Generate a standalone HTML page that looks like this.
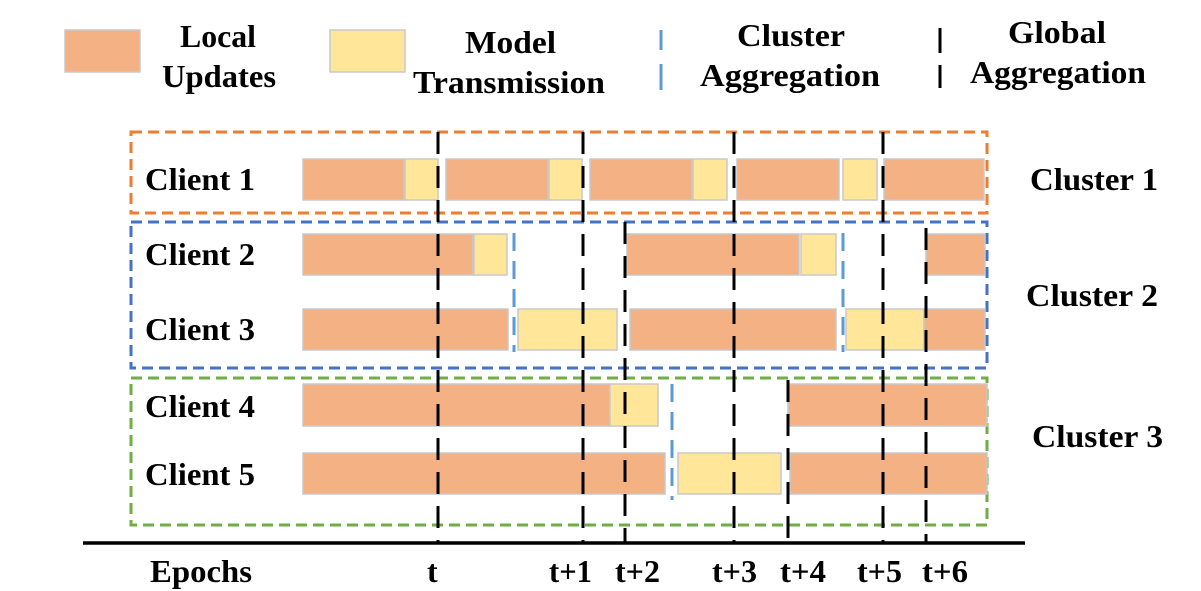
<!DOCTYPE html>
<html><head><meta charset="utf-8"><style>
html,body{margin:0;padding:0;background:#fff;}
svg{display:block;}
text{font-family:"Liberation Serif",serif;font-weight:bold;font-size:32px;fill:#000;}
</style></head><body>
<svg width="1201" height="591" viewBox="0 0 1201 591" xmlns="http://www.w3.org/2000/svg">
<g stroke="#c8c8c8" stroke-width="1.5">
<rect x="65" y="30" width="75" height="42" fill="#f4b183"/>
<rect x="330" y="30" width="75" height="42" fill="#ffe699"/>
</g>
<text x="180" y="47" textLength="76" lengthAdjust="spacingAndGlyphs">Local</text>
<text x="162" y="87" textLength="114" lengthAdjust="spacingAndGlyphs">Updates</text>
<text x="465" y="53" textLength="91" lengthAdjust="spacingAndGlyphs">Model</text>
<text x="413" y="93" textLength="192" lengthAdjust="spacingAndGlyphs">Transmission</text>
<text x="737" y="46" textLength="108" lengthAdjust="spacingAndGlyphs">Cluster</text>
<text x="700" y="86" textLength="180" lengthAdjust="spacingAndGlyphs">Aggregation</text>
<text x="1008" y="43" textLength="98" lengthAdjust="spacingAndGlyphs">Global</text>
<text x="970" y="83" textLength="176" lengthAdjust="spacingAndGlyphs">Aggregation</text>
<g stroke-width="3">
<line x1="661" y1="30" x2="661" y2="50" stroke="#5b9bd5"/>
<line x1="661" y1="64" x2="661" y2="90" stroke="#5b9bd5"/>
<line x1="940" y1="28" x2="940" y2="53" stroke="#000"/>
<line x1="940" y1="65" x2="940" y2="88" stroke="#000"/>
</g>

<g fill="none" stroke-width="3" stroke-dasharray="11,6">
<rect x="131" y="132" width="856" height="81" stroke="#ed7d31"/>
<rect x="131" y="222" width="856" height="146" stroke="#4472c4"/>
<rect x="131" y="378" width="856" height="147" stroke="#70ad47"/>
</g>

<g stroke="#c8c8c8" stroke-width="1.5">
<rect x="303" y="159" width="101" height="41" fill="#f4b183"/>
<rect x="405" y="159" width="33" height="41" fill="#ffe699"/>
<rect x="446" y="159" width="102" height="41" fill="#f4b183"/>
<rect x="549" y="159" width="33" height="41" fill="#ffe699"/>
<rect x="590" y="159" width="102" height="41" fill="#f4b183"/>
<rect x="693" y="159" width="34" height="41" fill="#ffe699"/>
<rect x="737" y="159" width="102" height="41" fill="#f4b183"/>
<rect x="843" y="159" width="34" height="41" fill="#ffe699"/>
<rect x="884" y="159" width="100" height="41" fill="#f4b183"/>
<rect x="303" y="234" width="170" height="41" fill="#f4b183"/>
<rect x="474" y="234" width="33" height="41" fill="#ffe699"/>
<rect x="627" y="234" width="172" height="41" fill="#f4b183"/>
<rect x="801" y="234" width="35" height="41" fill="#ffe699"/>
<rect x="926" y="234" width="59" height="41" fill="#f4b183"/>
<rect x="303" y="309" width="205" height="41" fill="#f4b183"/>
<rect x="518" y="309" width="99" height="41" fill="#ffe699"/>
<rect x="630" y="309" width="206" height="41" fill="#f4b183"/>
<rect x="846" y="309" width="78" height="41" fill="#ffe699"/>
<rect x="924" y="309" width="61" height="41" fill="#f4b183"/>
<rect x="303" y="384" width="307" height="42" fill="#f4b183"/>
<rect x="610" y="384" width="48" height="42" fill="#ffe699"/>
<rect x="788" y="384" width="199" height="42" fill="#f4b183"/>
<rect x="303" y="453" width="362" height="41" fill="#f4b183"/>
<rect x="678" y="453" width="103" height="41" fill="#ffe699"/>
<rect x="790" y="453" width="197" height="41" fill="#f4b183"/>
</g>

<g stroke="#5b9bd5" stroke-width="3" stroke-dasharray="18,10">
<line x1="514" y1="233" x2="514" y2="352"/>
<line x1="843" y1="233" x2="843" y2="352"/>
<line x1="672" y1="384" x2="672" y2="500"/>
</g>

<g stroke="#000" stroke-width="3" stroke-dasharray="22,12">
<line x1="438" y1="132" x2="438" y2="543"/>
<line x1="583" y1="132" x2="583" y2="543"/>
<line x1="625" y1="222" x2="625" y2="543"/>
<line x1="734" y1="132" x2="734" y2="543"/>
<line x1="788" y1="380" x2="788" y2="543"/>
<line x1="883" y1="132" x2="883" y2="543"/>
<line x1="926" y1="228" x2="926" y2="543"/>
</g>

<line x1="83" y1="543" x2="1025" y2="543" stroke="#000" stroke-width="3.5"/>

<g>
<text x="145" y="190" textLength="110" lengthAdjust="spacingAndGlyphs">Client 1</text>
<text x="145" y="265" textLength="110" lengthAdjust="spacingAndGlyphs">Client 2</text>
<text x="145" y="340" textLength="110" lengthAdjust="spacingAndGlyphs">Client 3</text>
<text x="145" y="417" textLength="110" lengthAdjust="spacingAndGlyphs">Client 4</text>
<text x="145" y="485" textLength="110" lengthAdjust="spacingAndGlyphs">Client 5</text>
<text x="1030" y="190" textLength="128" lengthAdjust="spacingAndGlyphs">Cluster 1</text>
<text x="1026" y="306" textLength="132" lengthAdjust="spacingAndGlyphs">Cluster 2</text>
<text x="1032" y="447" textLength="131" lengthAdjust="spacingAndGlyphs">Cluster 3</text>
<text x="150" y="582" textLength="102" lengthAdjust="spacingAndGlyphs">Epochs</text>
<text x="427" y="582">t</text>
<text x="549" y="582" textLength="43" lengthAdjust="spacingAndGlyphs">t+1</text>
<text x="615" y="582" textLength="45" lengthAdjust="spacingAndGlyphs">t+2</text>
<text x="712" y="582" textLength="45" lengthAdjust="spacingAndGlyphs">t+3</text>
<text x="780" y="582" textLength="46" lengthAdjust="spacingAndGlyphs">t+4</text>
<text x="857" y="582" textLength="45" lengthAdjust="spacingAndGlyphs">t+5</text>
<text x="922" y="582" textLength="46" lengthAdjust="spacingAndGlyphs">t+6</text>
</g>
</svg>
</body></html>
